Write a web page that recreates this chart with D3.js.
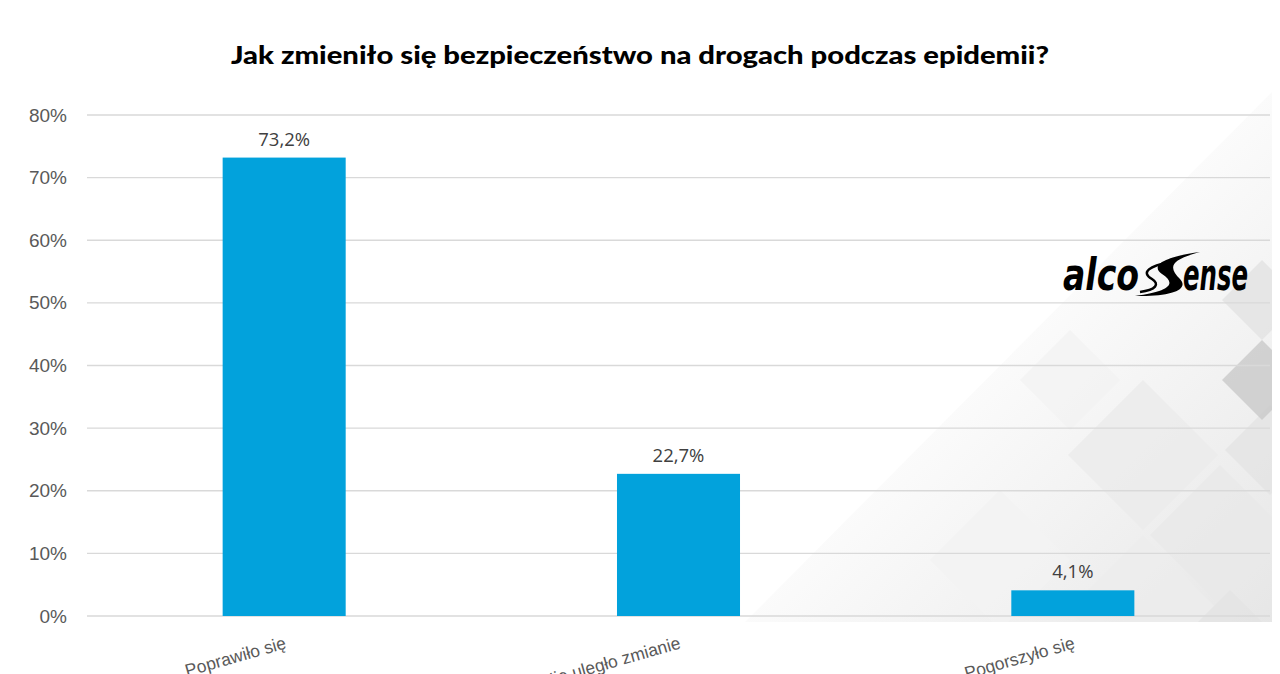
<!DOCTYPE html>
<html><head><meta charset="utf-8">
<script src="https://cdn.jsdelivr.net/npm/d3@7"></script>
<style>html,body{margin:0;padding:0;background:#fff;overflow:hidden}</style>
</head><body>
<svg id="chart" width="1280" height="674"></svg>
<script>
const categories = ["Poprawiło się", "Nie uległo zmianie", "Pogorszyło się"];
const values = [73.2, 22.7, 4.1];
const valueLabels = ["73,2%", "22,7%", "4,1%"];
const yTicks = [0, 10, 20, 30, 40, 50, 60, 70, 80];
const title = "Jak zmieniło się bezpieczeństwo na drogach podczas epidemii?";

const svg = d3.select("#chart");
const plotL = 87, plotR = 1270, plotT = 115, plotB = 616;

const x = d3.scaleBand().domain(categories).range([plotL, plotR]).paddingInner(0.688).paddingOuter(0.344);
const y = d3.scaleLinear().domain([0, 80]).range([plotB, plotT]);

// decorative background
const defs = svg.append("defs");
const grad = defs.append("linearGradient").attr("id","bg").attr("x1","0").attr("y1","0").attr("x2","1").attr("y2","1");
grad.append("stop").attr("offset","0.4").attr("stop-color","#ffffff");
grad.append("stop").attr("offset","1").attr("stop-color","#e6e6e6");
defs.append("clipPath").attr("id","tri").append("polygon").attr("points","745,622 1272,92 1272,622");
const deco = svg.append("g").attr("clip-path","url(#tri)");
deco.append("rect").attr("x",740).attr("y",90).attr("width",535).attr("height",535).attr("fill","url(#bg)");
const diamonds = [
  [1143,455,75,"#ebebeb"],[1143,610,75,"#ececec"],[1220,535,70,"#e9e9e9"],
  [1000,560,70,"#f3f3f3"],[1270,450,45,"#e4e4e4"],[1262,380,40,"#c9c9c9"],
  [1262,300,40,"#e2e2e2"],[1230,640,50,"#e3e3e3"],[1070,380,50,"#f2f2f2"]
];
deco.selectAll("path.d").data(diamonds).join("path")
  .attr("d", d => `M${d[0]},${d[1]-d[2]} L${d[0]+d[2]},${d[1]} L${d[0]},${d[1]+d[2]} L${d[0]-d[2]},${d[1]} Z`)
  .attr("fill", d => d[3]).attr("opacity", 0.8);

// gridlines
svg.append("g").selectAll("line").data(yTicks).join("line")
  .attr("x1", plotL).attr("x2", plotR)
  .attr("y1", d => y(d)).attr("y2", d => y(d))
  .attr("stroke", "#d9d9d9").attr("stroke-width", 1.3);

// y axis
const yAxis = d3.axisLeft(y).tickValues(yTicks).tickFormat(d => d + "%").tickSize(0).tickPadding(20);
const ya = svg.append("g").attr("transform", `translate(${plotL},0)`).call(yAxis);
ya.select(".domain").remove();
ya.selectAll("text").attr("font-family","Liberation Sans, Arial, sans-serif").attr("font-size","19px").attr("fill","#595959");

// bars
svg.append("g").selectAll("rect").data(values).join("rect")
  .attr("x", (d,i) => x(categories[i]))
  .attr("width", x.bandwidth())
  .attr("y", d => y(d))
  .attr("height", d => y(0) - y(d))
  .attr("fill", "#02a2dc");

// value labels
svg.append("g").selectAll("text").data(values).join("text")
  .attr("x", (d,i) => x(categories[i]) + x.bandwidth()/2)
  .attr("y", d => y(d) - 12)
  .attr("text-anchor","middle")
  .attr("font-family","Open Sans, sans-serif").attr("font-size","18.5px").attr("fill","#404040")
  .text((d,i) => valueLabels[i]);

// x labels
svg.append("g").selectAll("text").data(categories).join("text")
  .attr("transform", d => `translate(${x(d) + x.bandwidth()/2 + 3},648) rotate(-16)`)
  .attr("text-anchor","end")
  .attr("font-family","Liberation Sans, Arial, sans-serif").attr("font-size","17.5px").attr("fill","#595959")
  .text(d => d);

// title
svg.append("text").attr("x", 640).attr("y", 64).attr("text-anchor","middle")
  .attr("font-family","Lato, Liberation Sans, sans-serif").attr("font-weight","900").attr("font-size","24px")
  .attr("textLength", 818).attr("lengthAdjust","spacingAndGlyphs")
  .attr("fill","#000").text(title);

// logo
const logoFont = "DejaVu Sans Condensed, Liberation Sans Narrow, sans-serif";
svg.append("text").attr("x", 1063).attr("y", 290)
  .attr("font-family", logoFont).attr("font-weight","bold").attr("font-style","italic")
  .attr("font-size","44px").attr("fill","#000")
  .attr("textLength", 76).attr("lengthAdjust","spacingAndGlyphs").text("alco");
svg.append("text").attr("x", 1183).attr("y", 290)
  .attr("font-family", logoFont).attr("font-weight","bold").attr("font-style","italic")
  .attr("font-size","44px").attr("fill","#000")
  .attr("textLength", 65).attr("lengthAdjust","spacingAndGlyphs").text("ense");
svg.append("path")
  .attr("d","M1200,252 C1170,256 1148,264 1162,274 C1176,283 1172,291 1135,296 C1170,297 1190,290 1180,279 C1168,267 1170,260 1200,252 Z")
  .attr("fill","#000");
svg.append("path")
  .attr("d","M1170,262 C1150,266 1140,272 1152,279 C1160,284 1156,290 1140,292")
  .attr("fill","none").attr("stroke","#000").attr("stroke-width",2.5);
</script>
</body></html>
